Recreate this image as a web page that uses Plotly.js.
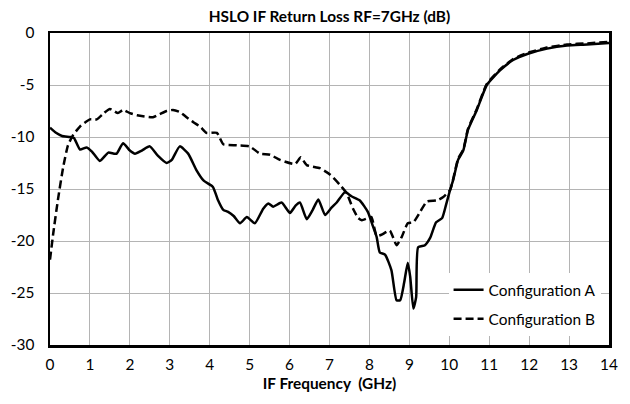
<!DOCTYPE html>
<html>
<head>
<meta charset="utf-8">
<script src="https://cdn.plot.ly/plotly-3.0.1.min.js"></script>
<style>html,body{margin:0;padding:0;background:#fff;}#chart{width:630px;height:404px;}</style>
</head>
<body>
<div id="chart"></div>
<script>
const freqA = [0,0.15,0.3,0.5,0.6,0.75,0.92,1.05,1.25,1.46,1.6,1.67,1.83,2.0,2.13,2.3,2.5,2.7,2.92,3.05,3.25,3.46,3.67,3.85,4.08,4.2,4.34,4.46,4.6,4.76,4.93,5.13,5.34,5.47,5.59,5.8,6.01,6.15,6.26,6.43,6.58,6.72,6.89,7.05,7.18,7.39,7.55,7.76,7.96,8.09,8.18,8.26,8.39,8.55,8.68,8.77,8.87,8.96,9.02,9.1,9.17,9.22,9.39,9.52,9.67,9.82,9.92,10.02,10.1,10.22,10.35,10.47,10.69,10.94,11.27,11.6,11.97,12.45,12.95,13.45,14];
const lossA = [-9.1,-9.6,-9.9,-10.0,-10.1,-11.2,-11.0,-11.4,-12.3,-11.5,-11.6,-11.6,-10.6,-11.3,-11.6,-11.3,-10.9,-11.8,-12.5,-12.2,-10.9,-11.6,-13.2,-14.2,-14.8,-16.0,-17.0,-17.2,-17.6,-18.3,-17.7,-18.3,-16.9,-16.4,-16.7,-16.3,-17.3,-16.6,-16.3,-17.9,-17.0,-16.0,-17.5,-16.8,-16.3,-15.3,-15.7,-16.1,-17.2,-18.6,-19.6,-21.1,-21.3,-22.8,-25.7,-25.7,-24.0,-22.1,-23.4,-26.5,-25.4,-20.6,-20.4,-19.7,-18.2,-17.8,-16.5,-15.1,-14.1,-12.2,-11.3,-9.3,-7.4,-5.0,-3.6,-2.6,-2.0,-1.5,-1.2,-1.1,-0.95];

const freqB = [0,0.08,0.2,0.33,0.45,0.58,0.75,1.0,1.17,1.35,1.5,1.7,1.83,2.0,2.18,2.58,2.75,2.92,3.08,3.25,3.42,3.6,3.76,3.92,4.18,4.34,4.68,5.0,5.26,5.51,5.76,6.14,6.28,6.43,6.76,7.01,7.26,7.43,7.59,7.72,7.81,7.96,8.05,8.18,8.3,8.51,8.68,8.81,8.96,9.1,9.27,9.44,9.69,9.84,10.02,10.1,10.22,10.35,10.47,10.69,10.94,11.27,11.6,11.97,12.45,12.95,13.45,14];
const lossB = [-21.8,-19.3,-16.0,-12.9,-10.8,-9.8,-9.0,-8.3,-8.3,-7.7,-7.3,-7.7,-7.4,-7.7,-7.9,-8.1,-7.8,-7.5,-7.4,-7.6,-8.1,-8.6,-9.0,-9.6,-9.6,-10.7,-10.8,-10.9,-11.6,-11.7,-12.2,-12.6,-11.95,-12.7,-13.0,-13.6,-14.6,-15.4,-16.9,-17.8,-18.0,-17.8,-17.7,-19.5,-19.4,-19.0,-20.4,-19.6,-18.3,-18.2,-17.2,-16.2,-16.1,-15.8,-15.1,-14.0,-12.1,-11.2,-9.2,-7.3,-4.9,-3.5,-2.5,-1.9,-1.4,-1.1,-1.0,-0.85];

const xTicks = [0,1,2,3,4,5,6,7,8,9,10,11,12,13,14];
const yTicks = [0,-5,-10,-15,-20,-25,-30];
const seriesNames = ['Configuration A','Configuration B'];
const titleText = 'HSLO IF Return Loss RF=7GHz (dB)';
const xTitle = 'IF Frequency  (GHz)';

const FONT = 'Lato, "Open Sans", sans-serif';
const FS = 15.4;

const traces = [
  {x: freqA, y: lossA, name: seriesNames[0], type: 'scatter', mode: 'lines', legendgroup: 'a',
   line: {color: '#000', width: 2.5, shape: 'spline', smoothing: 0.5}},
  {x: freqB, y: lossB, name: seriesNames[1], type: 'scatter', mode: 'lines', legendgroup: 'b',
   line: {color: '#000', width: 2.5, dash: '8px,4px', shape: 'spline', smoothing: 0.5}}
];

const layout = {
  width: 630, height: 404,
  margin: {l: 50, r: 21, t: 33, b: 59},
  paper_bgcolor: '#fff', plot_bgcolor: '#fff',
  font: {family: FONT, size: FS, color: '#000'},
  title: {text: '<b>' + titleText + '</b>', font: {family: FONT, size: FS, color: '#000'},
          x: 0.5, xref: 'paper', xanchor: 'center', y: 1 - 17/404, yref: 'container', yanchor: 'middle'},
  xaxis: {range: [0, 14], tickvals: xTicks, ticktext: xTicks.map(String),
          showgrid: true, gridcolor: '#b4b4b4', gridwidth: 1,
          showline: true, linecolor: '#000', linewidth: 2.5, mirror: true,
          zeroline: false, ticks: '', ticklabelstandoff: 4,
          tickfont: {family: FONT, size: FS, color: '#000'},
          title: {text: '<b>' + xTitle + '</b>', font: {family: FONT, size: FS, color: '#000'}, standoff: 6},
          fixedrange: true},
  yaxis: {range: [-30, 0], tickvals: yTicks, ticktext: yTicks.map(String),
          showgrid: true, gridcolor: '#b4b4b4', gridwidth: 1,
          showline: true, linecolor: '#000', linewidth: 2.5, mirror: true,
          zeroline: false, ticks: '', ticklabelstandoff: 10,
          tickfont: {family: FONT, size: FS, color: '#000'},
          fixedrange: true},
  showlegend: true,
  legend: {x: 0.713, y: 0.23, xanchor: 'left', yanchor: 'top', bgcolor: '#fff', borderwidth: 0,
           tracegroupgap: 6, font: {family: FONT, size: FS, color: '#000'}}
};

Plotly.newPlot('chart', traces, layout, {displayModeBar: false, staticPlot: true});
</script>
</body>
</html>
